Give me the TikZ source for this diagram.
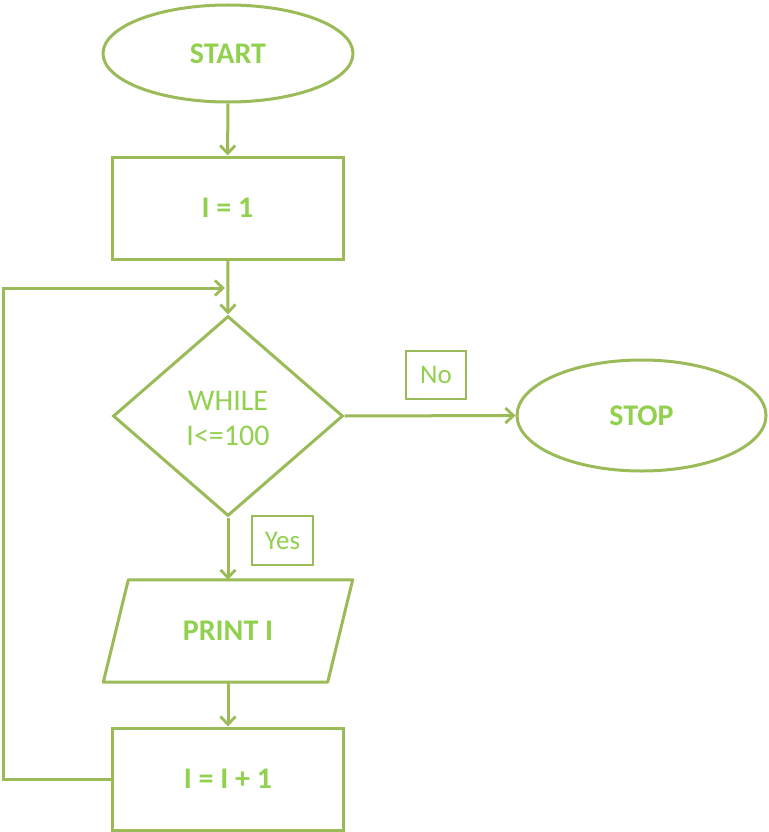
\documentclass[tikz,border=0pt]{standalone}
\usepackage{fontspec}
\setmainfont{Carlito}
\usetikzlibrary{shapes.geometric,arrows.meta}
\definecolor{lineg}{HTML}{9BBB59}
\definecolor{textg}{HTML}{92D050}
\tikzset{
  base/.style={draw=lineg, line width=3pt, text=textg, align=center, font=\fontsize{30}{36}\selectfont\bfseries, inner sep=0pt},
  term/.style={base, ellipse},
  procbox/.style={base, rectangle},
  decide/.style={base, diamond},
  lbl/.style={base, rectangle, line width=2.4pt, font=\fontsize{27}{32}\selectfont},
  conn/.style={draw=lineg, line width=3pt, -{Straight Barb[length=8pt,width=15pt,line width=2.8pt]}},
  plain/.style={draw=lineg, line width=3pt}
}
\begin{document}
\begin{tikzpicture}[x=1pt,y=-1pt]
\useasboundingbox (0,0) rectangle (768,832);
\node[term, minimum width=250, minimum height=97] (start) at (228,53.5) {START};
\node[procbox, minimum width=231, minimum height=102] (i1) at (227.5,208) {I = 1};
\node[decide, minimum width=230, minimum height=200] (while) at (228,416) {};
\node[text=textg, font=\fontsize{30}{35}\selectfont, align=center, inner sep=0pt] (wtext) at (228,418) {WHILE\\I<=100};
\node[term, minimum width=249, minimum height=111] (stop) at (641.5,415.5) {STOP};
\node[lbl, minimum width=60, minimum height=48] (no) at (436,375) {No};
\node[lbl, minimum width=61, minimum height=49] (yes) at (282.5,540.5) {Yes};
\node[inner sep=0pt, minimum width=224, minimum height=102, text=textg, font=\fontsize{30}{36}\selectfont\bfseries] (print) at (228,631) {PRINT I};
\draw[plain, line join=round] ([xshift=12.5pt]print.north west) -- ([xshift=12.5pt]print.north east) -- ([xshift=-12.5pt]print.south east) -- ([xshift=-12.5pt]print.south west) -- cycle;
\node[procbox, minimum width=231, minimum height=102] (inc) at (228,779) {I = I + 1};
\coordinate (loopend) at (225,288);
\coordinate (loopleft) at (3,779);
\draw[conn] (start) -- (i1);
\draw[conn] (i1) -- (while.north);
\draw[conn] (while.east) -- (stop.west);
\draw[conn] (while.south) -- (print.north);
\draw[conn] (print.south) -- (inc.north);
\draw[conn] (inc.west) -- (loopleft) |- (loopend);
\end{tikzpicture}
\end{document}
